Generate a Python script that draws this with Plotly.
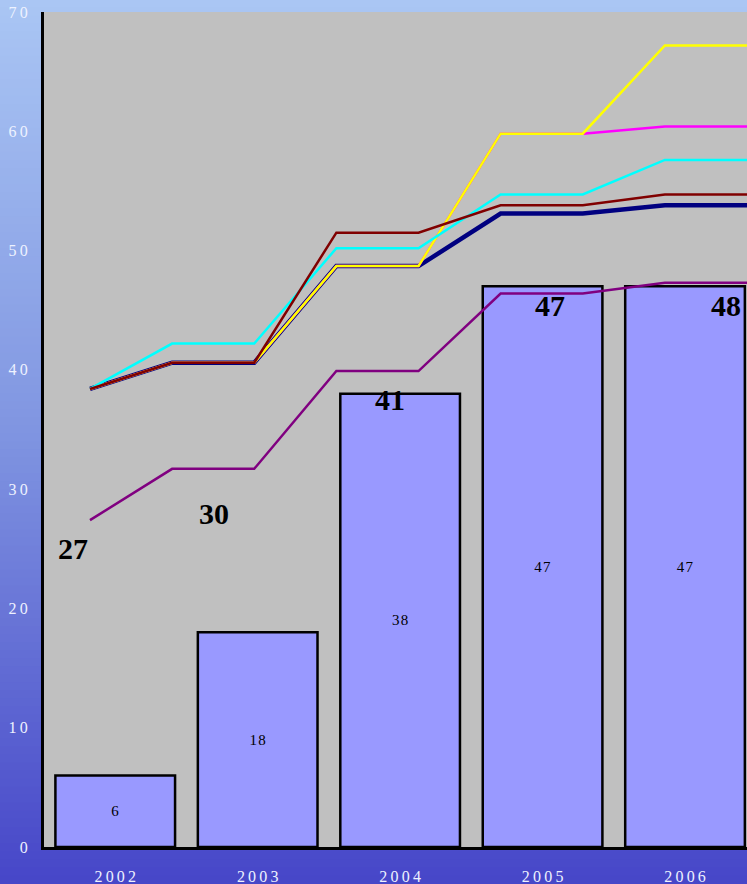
import plotly.graph_objects as go

# ---- data ----
years = ["2002", "2003", "2004", "2005", "2006"]
bar_values = [6, 18, 38, 47, 47]

# line series sampled at 9 evenly spaced points
navy_line = [38.4, 40.6, 40.6, 48.7, 48.7, 53.1, 53.1, 53.8, 53.8]
magenta_line = [38.4, 40.6, 40.6, 48.7, 48.7, 59.8, 59.8, 60.4, 60.4]
yellow_line = [38.4, 40.6, 40.6, 48.7, 48.7, 59.8, 59.8, 67.2, 67.2]
cyan_line = [38.4, 42.2, 42.2, 50.2, 50.2, 54.7, 54.7, 57.6, 57.6]
darkred_line = [38.4, 40.6, 40.6, 51.5, 51.5, 53.8, 53.8, 54.7, 54.7]
purple_line = [27.4, 31.7, 31.7, 39.9, 39.9, 46.4, 46.4, 47.3, 47.3]

big_labels = [27, 30, 41, 47, 48]
y_ticks = [0, 10, 20, 30, 40, 50, 60, 70]

# ---- layout helpers ----
W, H = 747, 884
ML, MR, MT, MB = 44, 0, 12, 37
pw, ph = W - ML - MR, H - MT - MB


def spaced(s, sep="\u2009"):
    return sep.join(list(str(s)))


fig = go.Figure()

xi = list(range(len(years)))
fig.add_trace(go.Bar(
    x=xi, y=bar_values, width=0.84,
    marker=dict(color="#9999FF", line=dict(color="black", width=2.5)),
    text=[spaced(v, "\u200a") for v in bar_values], textposition="inside",
    insidetextanchor="middle",
    textfont=dict(family="Liberation Serif", size=15, color="black"),
    hoverinfo="skip", showlegend=False,
))

line_specs = [
    (navy_line, "#000080", 4.5),
    (magenta_line, "#FF00FF", 2.5),
    (yellow_line, "#FFFF00", 2.5),
    (cyan_line, "#00FFFF", 2.5),
    (darkred_line, "#800000", 2.5),
    (purple_line, "#800080", 2.5),
]
for vals, col, w in line_specs:
    fig.add_trace(go.Scatter(
        x=list(range(len(vals))), y=vals, mode="lines",
        line=dict(color=col, width=w), xaxis="x2", yaxis="y",
        hoverinfo="skip", showlegend=False,
    ))

# gradient background via bands
def lerp(a, b, t):
    return tuple(a[i] + (b[i] - a[i]) * t for i in range(3))

top = (170, 198, 244)
mid = (128, 149, 225)
bot = (70, 70, 200)
n = 110
shapes = []
y_top_paper = (H - MB) / ph  # paper y at figure top
y_bot_paper = -MB / ph
x_left_paper = -ML / pw
for k in range(n):
    t0 = k / n
    t1 = (k + 1) / n
    tm = (t0 + t1) / 2
    if tm < 0.49:
        c = lerp(top, mid, tm / 0.49)
    else:
        c = lerp(mid, bot, (tm - 0.49) / 0.51)
    y0 = y_top_paper - (y_top_paper - y_bot_paper) * t0
    y1 = y_top_paper - (y_top_paper - y_bot_paper) * t1
    shapes.append(dict(
        type="rect", xref="paper", yref="paper",
        x0=x_left_paper, x1=1.01, y0=y1 - 0.001, y1=y0 + 0.001,
        fillcolor="rgb(%d,%d,%d)" % tuple(int(round(v)) for v in c),
        line=dict(width=0), layer="below",
    ))
shapes.append(dict(type="rect", xref="paper", yref="paper", x0=0, x1=1, y0=0, y1=1,
                   fillcolor="#C0C0C0", line=dict(width=0), layer="below"))

# big bold labels
label_dx = [-0.295, -0.305, -0.07, 0.05, 0.29]
label_y = [25.0, 28.0, 37.5, 45.4, 45.4]
annotations = []
for i, v in enumerate(big_labels):
    annotations.append(dict(
        x=i + label_dx[i], y=label_y[i], xref="x", yref="y",
        text="<b>%d</b>" % v, showarrow=False,
        font=dict(family="Liberation Serif", size=30, color="black"),
    ))

tickfont = dict(family="Liberation Serif", size=16, color="#EEF2FF")

fig.update_layout(
    width=W, height=H,
    margin=dict(l=ML, r=MR, t=MT, b=MB, pad=0),
    paper_bgcolor="#6F7FDA",
    plot_bgcolor="#C0C0C0",
    shapes=shapes,
    annotations=annotations,
    bargap=0.16,
    xaxis=dict(
        range=[-0.5, 4.435], tickvals=xi, ticktext=[spaced(y) for y in years],
        showgrid=False, zeroline=False,
        showline=True, linecolor="black", linewidth=3,
        ticks="outside", ticklen=13, tickcolor="rgba(0,0,0,0)",
        tickfont=tickfont, fixedrange=True,
    ),
    xaxis2=dict(
        range=[-0.56, 8.0], overlaying="x", visible=False,
        fixedrange=True,
    ),
    yaxis=dict(
        range=[0, 70], tickvals=y_ticks, ticktext=[spaced(t) for t in y_ticks],
        showgrid=False, zeroline=False,
        showline=True, linecolor="black", linewidth=3,
        ticks="outside", ticklen=10, tickcolor="rgba(0,0,0,0)",
        tickfont=tickfont, fixedrange=True,
    ),
)

fig.write_html("out.html")
